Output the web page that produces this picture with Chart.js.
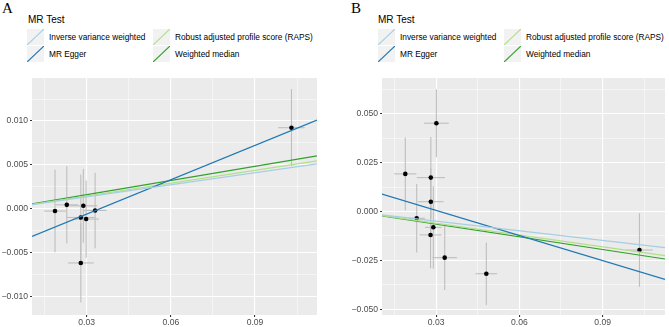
<!DOCTYPE html>
<html>
<head>
<meta charset="utf-8">
<script src="https://cdn.jsdelivr.net/npm/chart.js@4.4.0/dist/chart.umd.min.js"></script>
<style>
  body { margin: 0; background: #fff; width: 669px; height: 327px; overflow: hidden; position: relative;
         font-family: 'Liberation Sans', Arial, sans-serif; }
  canvas { position: absolute; top: 0; }
  #chartA { left: 0; }
  #chartB { left: 335px; }
  .tag { position: absolute; top: 1px; font-family: 'Liberation Serif', 'Times New Roman', serif;
         font-size: 15px; line-height: 1; color: #000; }
  .legend-title { position: absolute; top: 15px; font-size: 10px; line-height: 1; color: #000; }
  .legend { position: absolute; top: 29px; display: grid; grid-auto-flow: column;
            grid-template-rows: 16.5px 16.5px; grid-template-columns: 126px auto; }
  .item { display: flex; align-items: center; font-size: 8.3px; color: #000; white-space: nowrap; }
  .key { width: 17px; height: 16px; margin-right: 5px; flex: none; display: block; background: #f2f2f2; }
</style>
</head>
<body>
<div class="tag" style="left:2px">A</div>
<div class="tag" style="left:351px">B</div>
<div class="legend-title" style="left:28px">MR Test</div>
<div class="legend-title" style="left:378px">MR Test</div>
<div class="legend" id="legendA" style="left:27px"></div>
<div class="legend" id="legendB" style="left:378px"></div>
<canvas id="chartA" width="335" height="327"></canvas>
<canvas id="chartB" width="334" height="327"></canvas>

<script>
// MR methods and their line colours
var methods = ["Inverse variance weighted", "MR Egger", "Robust adjusted profile score (RAPS)", "Weighted median"];
var methodColors = ["#a6cee3", "#1f78b4", "#b2df8a", "#33a02c"];

// axis breaks
var xBreaks = [0.03, 0.06, 0.09];
var xMinor = [0.015, 0.045, 0.075, 0.105];
var aYBreaks = [-0.010, -0.005, 0.000, 0.005, 0.010];
var aYMinor = [-0.0075, -0.0025, 0.0025, 0.0075, 0.0125];
var bYBreaks = [-0.050, -0.025, 0.000, 0.025, 0.050];
var bYMinor = [-0.0375, -0.0125, 0.0125, 0.0375, 0.0625];

// axis limits
var aXRange = [0.0105, 0.1121];
var aYRange = [-0.0121, 0.0149];
var bXRange = [0.0105, 0.1125];
var bYRange = [-0.0529, 0.0682];

// panel A: SNP effects on exposure / outcome
var aBetaExp = [0.0187, 0.0229, 0.0288, 0.0330, 0.0279, 0.0298, 0.0279, 0.1030];
var aSeExp   = [0.0039, 0.0040, 0.0050, 0.0041, 0.0050, 0.0046, 0.0046, 0.0047];
var aBetaOut = [-0.00026, 0.00045, 0.00034, -0.00019, -0.00099, -0.00117, -0.00617, 0.00924];
var aSeOut   = [0.0047, 0.0044, 0.0042, 0.0043, 0.0049, 0.0044, 0.0045, 0.0044];
var aSlope     = [0.0456, 0.1305, 0.0486, 0.0537];
var aIntercept = [0, -0.00452, 0, 0];

// panel B
var bBetaExp = [0.0189, 0.0230, 0.0281, 0.0281, 0.0290, 0.0280, 0.0301, 0.0331, 0.0481, 0.1033];
var bSeExp   = [0.0040, 0.0030, 0.0051, 0.0046, 0.0030, 0.0040, 0.0045, 0.0044, 0.0039, 0.0048];
var bBetaOut = [0.0192, -0.0035, 0.0173, 0.0050, -0.0081, -0.0120, 0.0451, -0.0236, -0.0318, -0.0197];
var bSeOut   = [0.0186, 0.0175, 0.0207, 0.0170, 0.0210, 0.0170, 0.0174, 0.0165, 0.0160, 0.0188];
var bSlope     = [-0.1645, -0.4275, -0.201, -0.216];
var bIntercept = [0, 0.0134, 0, 0];

Chart.defaults.font.family = "'Liberation Sans', Arial, sans-serif";
Chart.defaults.color = "#4d4d4d";

function isIn(list, v) {
    for (var i = 0; i < list.length; i++) {
        if (Math.abs(list[i] - v) < 1e-9) return true;
    }
    return false;
}

function fmt(v, digits) {
    return v.toFixed(digits).replace("-", "\u2212");
}

function buildLegend(id) {
    var box = document.getElementById(id);
    var ns = "http://www.w3.org/2000/svg";
    methods.forEach(function (name, i) {
        var item = document.createElement("div");
        item.className = "item";
        // key glyph: grey box with a diagonal going up to the right
        var key = document.createElementNS(ns, "svg");
        key.setAttribute("class", "key");
        key.setAttribute("width", "17");
        key.setAttribute("height", "16");
        var ln = document.createElementNS(ns, "line");
        ln.setAttribute("x1", "0");
        ln.setAttribute("y1", "16");
        ln.setAttribute("x2", "17");
        ln.setAttribute("y2", "0");
        ln.setAttribute("stroke", methodColors[i]);
        ln.setAttribute("stroke-width", "1.2");
        key.appendChild(ln);
        item.appendChild(key);
        item.appendChild(document.createTextNode(name));
        box.appendChild(item);
    });
}

var panelBg = {
    id: "panelBg",
    beforeDraw: function (chart) {
        var a = chart.chartArea;
        chart.ctx.save();
        chart.ctx.fillStyle = "#ebebeb";
        chart.ctx.fillRect(a.left, a.top, a.right - a.left, a.bottom - a.top);
        chart.ctx.restore();
    }
};

function makeChart(canvasId, p) {
    var datasets = [];

    // regression lines from each method
    methods.forEach(function (name, i) {
        datasets.push({
            label: name,
            data: [
                { x: p.xRange[0], y: p.intercept[i] + p.slope[i] * p.xRange[0] },
                { x: p.xRange[1], y: p.intercept[i] + p.slope[i] * p.xRange[1] }
            ],
            showLine: true,
            borderColor: methodColors[i],
            borderWidth: 1.2,
            pointRadius: 0,
            order: 0
        });
    });

    // SNP points
    datasets.push({
        label: "SNPs",
        data: p.bx.map(function (x, i) { return { x: x, y: p.by[i] }; }),
        backgroundColor: "#000",
        borderColor: "#000",
        pointRadius: 2.3,
        borderWidth: 0,
        order: 1
    });

    // error bars
    for (var i = 0; i < p.bx.length; i++) {
        datasets.push({
            data: [{ x: p.bx[i], y: p.by[i] - p.sy[i] }, { x: p.bx[i], y: p.by[i] + p.sy[i] }],
            showLine: true, borderColor: "#bebebe", borderWidth: 1.1, pointRadius: 0, order: 2
        });
        datasets.push({
            data: [{ x: p.bx[i] - p.sx[i], y: p.by[i] }, { x: p.bx[i] + p.sx[i], y: p.by[i] }],
            showLine: true, borderColor: "#bebebe", borderWidth: 1.1, pointRadius: 0, order: 2
        });
    }

    var ctx = document.getElementById(canvasId).getContext("2d");
    return new Chart(ctx, {
        type: "scatter",
        data: { datasets: datasets },
        plugins: [panelBg],
        options: {
            responsive: false,
            animation: false,
            layout: { padding: { top: 78, right: p.padRight, left: 0, bottom: 0 } },
            plugins: { legend: { display: false }, tooltip: { enabled: false } },
            scales: {
                x: {
                    type: "linear",
                    min: p.xRange[0],
                    max: p.xRange[1],
                    afterBuildTicks: function (scale) {
                        scale.ticks = xMinor.concat(xBreaks).sort(function (a, b) { return a - b; })
                            .map(function (v) { return { value: v }; });
                    },
                    afterFit: function (scale) { scale.height = 12; },
                    border: { display: false },
                    grid: {
                        color: "#ffffff",
                        lineWidth: function (c) { return isIn(xBreaks, c.tick.value) ? 1.1 : 0.5; },
                        tickLength: 2,
                        tickColor: function (c) { return isIn(xBreaks, c.tick.value) ? "#333333" : "rgba(0,0,0,0)"; }
                    },
                    ticks: {
                        autoSkip: false,
                        maxRotation: 0,
                        padding: 0,
                        font: { size: 8.6 },
                        color: "#4d4d4d",
                        callback: function (v) { return isIn(xBreaks, v) ? fmt(v, 2) : ""; }
                    }
                },
                y: {
                    type: "linear",
                    min: p.yRange[0],
                    max: p.yRange[1],
                    afterBuildTicks: function (scale) {
                        scale.ticks = p.yMinor.concat(p.yBreaks).sort(function (a, b) { return a - b; })
                            .filter(function (v) { return v >= p.yRange[0] && v <= p.yRange[1]; })
                            .map(function (v) { return { value: v }; });
                    },
                    afterFit: function (scale) { scale.width = p.yWidth; },
                    border: { display: false },
                    grid: {
                        color: "#ffffff",
                        lineWidth: function (c) { return isIn(p.yBreaks, c.tick.value) ? 1.1 : 0.5; },
                        tickLength: 2,
                        tickColor: function (c) { return isIn(p.yBreaks, c.tick.value) ? "#333333" : "rgba(0,0,0,0)"; }
                    },
                    ticks: {
                        autoSkip: false,
                        padding: 2,
                        font: { size: 8.6 },
                        color: "#4d4d4d",
                        callback: function (v) { return isIn(p.yBreaks, v) ? fmt(v, 3) : ""; }
                    }
                }
            }
        }
    });
}

buildLegend("legendA");
buildLegend("legendB");

makeChart("chartA", {
    bx: aBetaExp, sx: aSeExp, by: aBetaOut, sy: aSeOut,
    slope: aSlope, intercept: aIntercept,
    xRange: aXRange, yRange: aYRange, yBreaks: aYBreaks, yMinor: aYMinor,
    yWidth: 32, padRight: 18
});

makeChart("chartB", {
    bx: bBetaExp, sx: bSeExp, by: bBetaOut, sy: bSeOut,
    slope: bSlope, intercept: bIntercept,
    xRange: bXRange, yRange: bYRange, yBreaks: bYBreaks, yMinor: bYMinor,
    yWidth: 47, padRight: 1
});
</script>
</body>
</html>
